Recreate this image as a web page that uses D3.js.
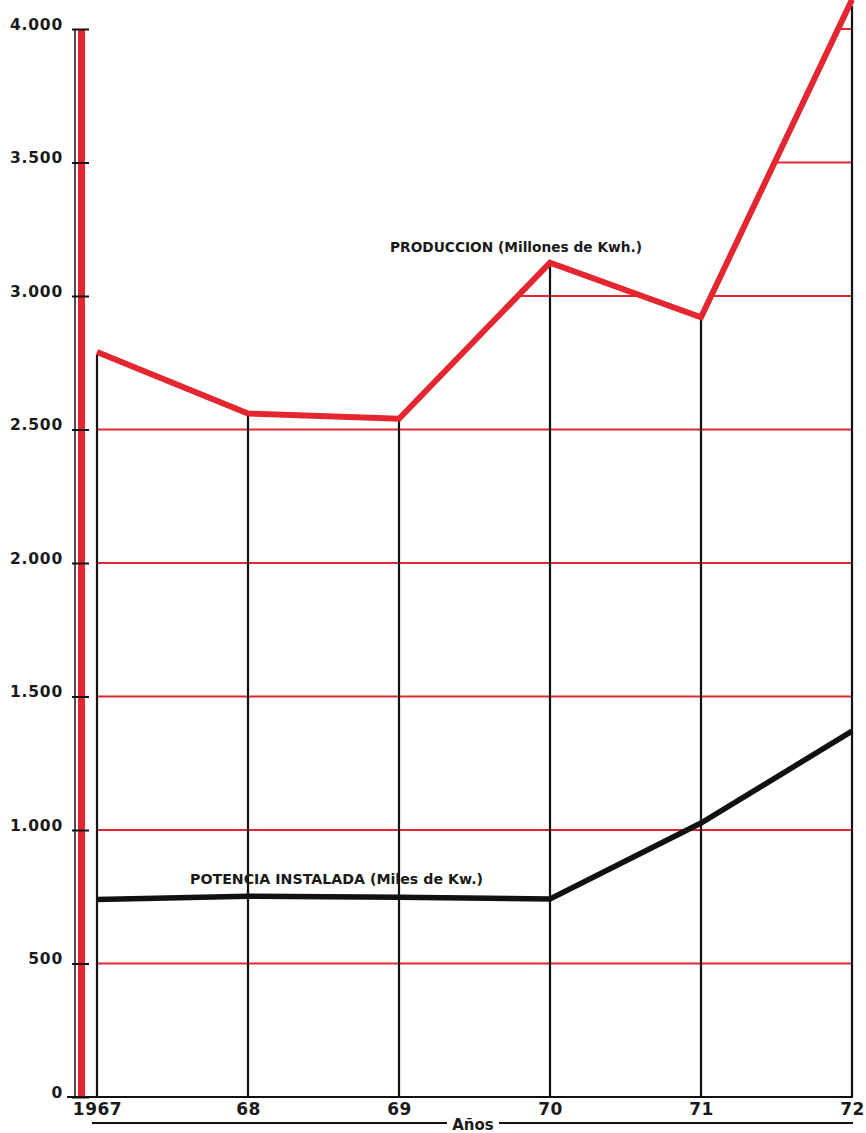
<!DOCTYPE html>
<html>
<head>
<meta charset="utf-8">
<script src="https://cdn.jsdelivr.net/npm/d3@7"></script>
<style>
  body { margin: 0; background: #fff; }
  text { font-family: "DejaVu Sans", sans-serif; fill: #1a1a1a; }
</style>
</head>
<body>
<script>
// data
const years = [1967, 1968, 1969, 1970, 1971, 1972]
const yearLabels = ['1967', '68', '69', '70', '71', '72']
const produccion = [2790, 2560, 2540, 3125, 2920, 4110]
const potencia = [740, 752, 748, 742, 1026, 1370]
const yTicks = [0, 500, 1000, 1500, 2000, 2500, 3000, 3500, 4000]

const m = { width: 866, height: 1133, left: 97, right: 14, top: 29, bottom: 36 }
const RED = '#e3262f'

const svg = d3.select('body').append('svg')
    .attr('width', m.width)
    .attr('height', m.height)

const x = d3.scaleLinear()
    .domain([1967, 1972])
    .range([m.left, m.width - m.right])

const y = d3.scaleLinear()
    .domain([0, 4000])
    .range([m.height - m.bottom, m.top])

const fmt = d3.formatLocale({ decimal: ',', thousands: '.', grouping: [3], currency: ['', ''] }).format(',')

const prodData = years.map((yr, i) => ({ yr: yr, v: produccion[i] }))
const potData = years.map((yr, i) => ({ yr: yr, v: potencia[i] }))

// red grid only under the production curve
svg.append('clipPath').attr('id', 'under')
  .append('path')
    .attr('d', d3.area().x(d => x(d.yr)).y0(y(0)).y1(d => y(d.v))(prodData))

svg.append('g')
    .attr('clip-path', 'url(#under)')
  .selectAll('line')
    .data(yTicks.filter(t => t > 0))
    .enter()
    .append('line')
        .attr('x1', x(1967))
        .attr('x2', x(1972))
        .attr('y1', d => y(d))
        .attr('y2', d => y(d))
        .attr('stroke', RED)
        .attr('stroke-width', 1.8)

// black stems for each year
svg.selectAll('.stem')
    .data(prodData)
    .enter()
    .append('line')
        .attr('x1', d => x(d.yr))
        .attr('x2', d => x(d.yr))
        .attr('y1', y(0))
        .attr('y2', d => Math.max(y(d.v) + 2, 6))
        .attr('stroke', '#111')
        .attr('stroke-width', 2.2)

// left axis: thin black rule + thick red bar
const ax = m.left - 22
svg.append('line')
    .attr('x1', ax).attr('x2', ax)
    .attr('y1', y(4000)).attr('y2', y(0))
    .attr('stroke', '#111').attr('stroke-width', 1.5)
svg.append('rect')
    .attr('x', ax + 3).attr('width', 7)
    .attr('y', y(4000)).attr('height', y(0) - y(4000))
    .attr('fill', RED)

const yAxis = svg.append('g')
    .attr('transform', `translate(${ax + 14},0)`)
    .call(d3.axisLeft(y).tickValues(yTicks).tickFormat(fmt)
        .tickSizeInner(17).tickSizeOuter(0).tickPadding(9))
yAxis.select('.domain').remove()
yAxis.selectAll('line').attr('stroke', '#111').attr('stroke-width', 2)
yAxis.selectAll('text')
    .attr('dy', '0')
    .attr('font-size', 15.5)
    .attr('font-weight', 'bold')
    .attr('letter-spacing', 0.8)
    .attr('font-family', '"DejaVu Sans", sans-serif')
    .attr('fill', '#1a1a1a')

// x axis
svg.append('line')
    .attr('x1', ax - 8).attr('x2', x(1972) + 1)
    .attr('y1', y(0)).attr('y2', y(0))
    .attr('stroke', '#111').attr('stroke-width', 2)

const xAxis = svg.append('g')
    .attr('transform', `translate(0,${y(0)})`)
    .call(d3.axisBottom(x).tickValues(years)
        .tickFormat((d, i) => yearLabels[i]).tickSize(0).tickPadding(6))
xAxis.select('.domain').remove()
xAxis.selectAll('text')
    .attr('font-size', 17)
    .attr('font-weight', 'bold')
    .attr('letter-spacing', 0.5)
    .attr('font-family', '"DejaVu Sans", sans-serif')
    .attr('fill', '#1a1a1a')

// "Años" rule
const by = y(0) + 26
const cx = (m.left - 5 + x(1972)) / 2
svg.append('line')
    .attr('x1', m.left - 5).attr('x2', cx - 25)
    .attr('y1', by).attr('y2', by)
    .attr('stroke', '#111').attr('stroke-width', 2)
svg.append('line')
    .attr('x1', cx + 27).attr('x2', x(1972) + 1)
    .attr('y1', by).attr('y2', by)
    .attr('stroke', '#111').attr('stroke-width', 2)
svg.append('text')
    .attr('x', cx + 1).attr('y', by + 7)
    .attr('text-anchor', 'middle')
    .attr('font-size', 15)
    .attr('font-weight', 'bold')
    .text('Años')

// series lines
const line = d3.line().x(d => x(d.yr)).y(d => y(d.v))

svg.append('path')
    .datum(prodData)
    .attr('d', line)
    .attr('fill', 'none')
    .attr('stroke', RED)
    .attr('stroke-width', 6)

svg.append('path')
    .datum(potData)
    .attr('d', line)
    .attr('fill', 'none')
    .attr('stroke', '#111')
    .attr('stroke-width', 5.5)

// series labels
svg.append('text')
    .attr('x', 390).attr('y', 252)
    .attr('font-family', '"Liberation Sans", Arial, sans-serif')
    .attr('font-size', 14)
    .attr('font-weight', 'bold')
    .attr('textLength', 252)
    .attr('lengthAdjust', 'spacingAndGlyphs')
    .text('PRODUCCION (Millones de Kwh.)')

svg.append('text')
    .attr('x', 190).attr('y', 884)
    .attr('font-family', '"Liberation Sans", Arial, sans-serif')
    .attr('font-size', 14.5)
    .attr('font-weight', 'bold')
    .attr('textLength', 293)
    .attr('lengthAdjust', 'spacingAndGlyphs')
    .text('POTENCIA INSTALADA (Miles de Kw.)')
</script>
</body>
</html>
